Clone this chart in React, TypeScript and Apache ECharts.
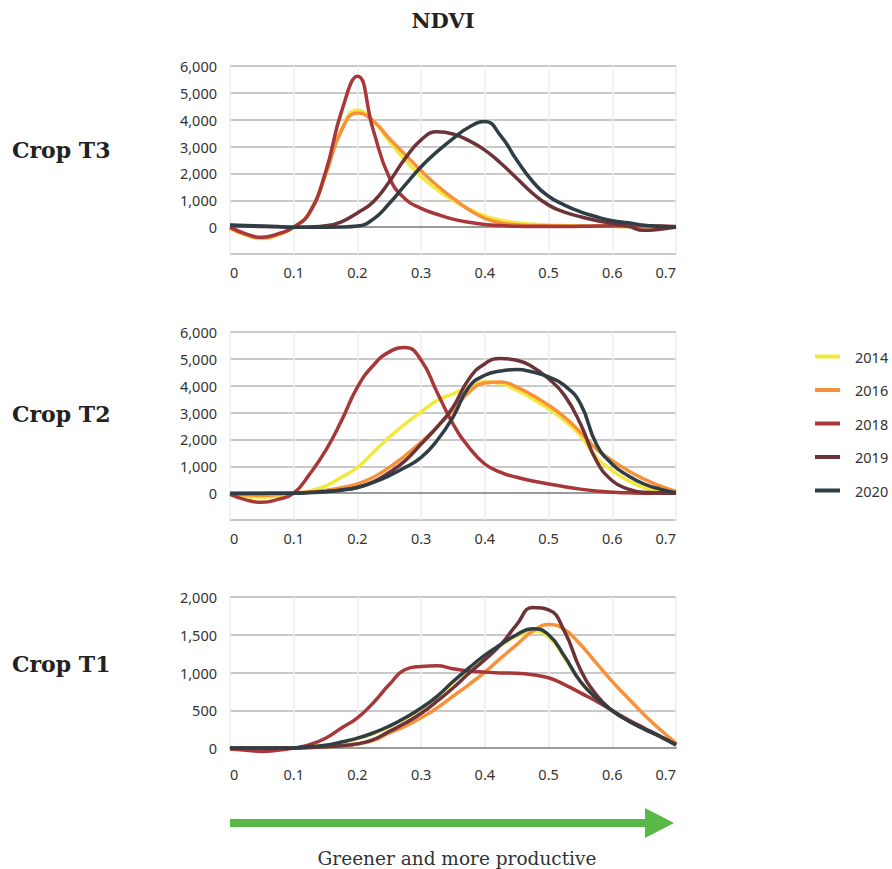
import React, { useEffect, useRef } from "react";
import * as echarts from "echarts";

const YEARS = ["2014", "2016", "2018", "2019", "2020"];
const COLORS = ["#f3e83c", "#f7913a", "#a8373a", "#6e3338", "#2f3d45"];
const CROPS = ["Crop T3", "Crop T2", "Crop T1"];

const NDVI_X = [
  0, 0.025, 0.05, 0.075, 0.1, 0.125, 0.15, 0.175, 0.2, 0.225, 0.25, 0.275, 0.3, 0.325, 0.35,
  0.375, 0.4, 0.425, 0.45, 0.475, 0.5, 0.525, 0.55, 0.575, 0.6, 0.625, 0.65, 0.675, 0.7,
];

// Crop T3
const T3_2014 = [-50, -300, -420, -300, 0, 550, 2000, 3650, 4350, 3950, 3200, 2500, 1880, 1400, 1000, 680, 420, 260, 160, 110, 80, 60, 45, 35, 30, 25, 20, 10, 0];
const T3_2016 = [-30, -280, -400, -280, 0, 530, 1950, 3600, 4250, 3950, 3300, 2700, 2100, 1550, 1080, 650, 330, 160, 90, 60, 50, 40, 35, 30, 30, 25, 20, 10, 0];
const T3_2018 = [0, -250, -380, -250, 0, 550, 2050, 4300, 5620, 3600, 1850, 1050, 700, 480, 300, 180, 100, 60, 30, 20, 20, 20, 30, 40, 50, 50, 50, 40, 20];
const T3_2019 = [60, 40, 20, 10, 0, 10, 50, 200, 530, 950, 1690, 2560, 3250, 3550, 3470, 3220, 2870, 2380, 1820, 1260, 820, 560, 390, 250, 140, 30, -120, -80, 0];
const T3_2020 = [80, 60, 40, 20, 0, 0, 0, 5, 40, 300, 880, 1570, 2250, 2810, 3300, 3720, 3930, 3400, 2500, 1700, 1150, 820, 570, 385, 240, 160, 75, 30, 0];

// Crop T2
const T2_2014 = [-50, -130, -150, -100, 0, 70, 270, 590, 960, 1520, 2080, 2580, 3020, 3450, 3700, 3950, 4150, 4080, 3830, 3510, 3140, 2700, 2140, 1330, 835, 460, 210, 60, 0];
const T2_2016 = [-30, -60, -80, -50, 0, 30, 100, 200, 340, 590, 960, 1400, 1900, 2460, 3080, 3760, 4100, 4140, 3950, 3640, 3270, 2830, 2270, 1650, 1210, 835, 520, 270, 60];
const T2_2018 = [-50, -250, -340, -230, 0, 710, 1580, 2700, 3950, 4760, 5260, 5420, 4950, 3760, 2580, 1710, 1085, 770, 590, 450, 340, 240, 150, 80, 30, 10, 0, 0, 0];
const T2_2019 = [-20, -15, -10, -5, 0, 20, 60, 120, 210, 420, 770, 1210, 1830, 2460, 3200, 4250, 4820, 5010, 4950, 4700, 4260, 3640, 2580, 1210, 460, 150, 30, 10, 0];
const T2_2020 = [0, 0, 0, 0, 0, 20, 50, 110, 210, 400, 650, 960, 1330, 1960, 2830, 3950, 4390, 4550, 4600, 4510, 4330, 4010, 3330, 1830, 1080, 650, 340, 150, 20];

// Crop T1
const T1_2014 = [-10, -10, -5, 0, 0, 20, 35, 75, 125, 190, 280, 390, 520, 680, 870, 1050, 1220, 1360, 1480, 1550, 1470, 1200, 880, 660, 495, 360, 255, 155, 40];
const T1_2016 = [-20, -15, -10, -5, 0, 5, 15, 30, 55, 100, 200, 290, 400, 530, 685, 840, 1005, 1190, 1370, 1545, 1635, 1570, 1370, 1125, 880, 660, 440, 245, 65];
const T1_2018 = [-10, -30, -45, -30, 0, 45, 130, 265, 400, 600, 840, 1040, 1080, 1090, 1050, 1020, 1005, 995, 990, 970, 930, 840, 730, 620, 495, 375, 265, 155, 50];
const T1_2019 = [0, 0, 0, 0, 0, 5, 15, 30, 55, 110, 220, 330, 460, 620, 795, 990, 1170, 1370, 1635, 1860, 1830, 1545, 1040, 705, 495, 360, 250, 150, 40];
const T1_2020 = [0, 0, 0, 0, 0, 20, 35, 80, 130, 200, 290, 400, 530, 685, 880, 1060, 1230, 1370, 1500, 1580, 1500, 1215, 880, 660, 495, 360, 255, 155, 40];

const PANELS = [
  [T3_2014, T3_2016, T3_2018, T3_2019, T3_2020],
  [T2_2014, T2_2016, T2_2018, T2_2019, T2_2020],
  [T1_2014, T1_2016, T1_2018, T1_2019, T1_2020],
];

const Y_MIN = [-1000, -1000, 0];
const Y_MAX = [6000, 6000, 2000];
const Y_STEP = [1000, 1000, 500];
const X_TICKS_MAX = 0.7;

const LABEL_FONT = "'Noto Sans', sans-serif";
const TITLE_FONT = "'DejaVu Serif', serif";

export default function App() {
  const ref = useRef<HTMLDivElement>(null);
  useEffect(() => {
    if (!ref.current) return;
    const chart = echarts.init(ref.current, null, { renderer: "svg" });
    const gridPos = [
      { left: 230, right: 216, top: 66, height: 188 },
      { left: 230, right: 216, top: 332, height: 188 },
      { left: 230, right: 216, top: 597, height: 151 },
    ];
    const xAxes = gridPos.map((_, i) => ({
      type: "value",
      gridIndex: i,
      min: 0,
      max: X_TICKS_MAX,
      interval: 0.1,
      axisLine: i === 2 ? { show: true, lineStyle: { color: "#9a9a9a", width: 2 } } : { show: false },
      axisTick: { show: false },
      axisLabel: {
        margin: i === 2 ? 18 : 10,
        fontSize: 14.5,
        color: "#333",
        fontFamily: LABEL_FONT,
        alignMinLabel: "left",
        alignMaxLabel: "right",
        formatter: (v: number) => (Math.abs(v) < 1e-9 ? "0" : v.toFixed(1)),
      },
      splitLine: { show: true, lineStyle: { color: "#ececec", width: 1.5 } },
    }));
    const yAxes = gridPos.map((_, i) => ({
      type: "value",
      gridIndex: i,
      min: Y_MIN[i],
      max: Y_MAX[i],
      interval: Y_STEP[i],
      axisLine: { show: false },
      axisTick: { show: false },
      axisLabel: {
        margin: 13,
        fontSize: 14.5,
        color: "#333",
        fontFamily: LABEL_FONT,
        formatter: (v: number) => (v < 0 ? "" : v.toLocaleString("en-US")),
      },
      splitLine: { show: true, lineStyle: { color: "#c9c9c9", width: 2 } },
    }));
    const series: any[] = [];
    PANELS.forEach((panel, gi) => {
      panel.forEach((vals, si) => {
        const s: any = {
          type: "line",
          name: YEARS[si],
          xAxisIndex: gi,
          yAxisIndex: gi,
          data: NDVI_X.map((x, k) => [x, vals[k]]),
          smooth: 0.5,
          showSymbol: false,
          symbol: "none",
          clip: false,
          color: COLORS[si],
          lineStyle: { width: 3.5, color: COLORS[si] },
          z: 3 + si,
        };
        if (si === 0 && gi < 2) {
          s.markLine = {
            silent: true,
            symbol: "none",
            label: { show: false },
            lineStyle: { color: "#9a9a9a", width: 2, type: "solid" },
            data: [{ yAxis: 0 }],
            z: 1,
          };
        }
        series.push(s);
      });
    });
    const cropY = [150, 414, 664];
    chart.setOption({
      animation: false,
      backgroundColor: "#ffffff",
      grid: gridPos,
      xAxis: xAxes,
      yAxis: yAxes,
      legend: {
        data: YEARS,
        orient: "vertical",
        left: 810,
        top: 344,
        itemWidth: 25,
        itemHeight: 4,
        icon: "rect",
        itemGap: 18.5,
        textStyle: { fontSize: 14.5, color: "#333", fontFamily: LABEL_FONT, padding: [0, 0, 0, 10] },
      },
      series,
      graphic: [
        {
          type: "text",
          x: 443,
          y: 20,
          style: {
            text: "NDVI",
            font: `bold 21px ${TITLE_FONT}`,
            fill: "#222",
            textAlign: "center",
            textVerticalAlign: "middle",
          },
        },
        ...CROPS.map((c, i) => ({
          type: "text",
          x: 12,
          y: cropY[i],
          style: {
            text: c,
            font: `bold 22px ${TITLE_FONT}`,
            fill: "#222",
            textAlign: "left",
            textVerticalAlign: "middle",
          },
        })),
        {
          type: "rect",
          shape: { x: 230, y: 819, width: 418, height: 8 },
          style: { fill: "#58b947" },
        },
        {
          type: "polygon",
          shape: { points: [[645, 808], [674, 823], [645, 838]] },
          style: { fill: "#58b947" },
        },
        {
          type: "text",
          x: 457,
          y: 858,
          style: {
            text: "Greener and more productive",
            font: `18.5px ${TITLE_FONT}`,
            fill: "#333",
            textAlign: "center",
            textVerticalAlign: "middle",
          },
        },
      ],
    });
    return () => chart.dispose();
  }, []);
  return (
    <div
      ref={ref}
      style={{ position: "fixed", left: 0, top: 0, width: 892, height: 869, background: "#fff" }}
    />
  );
}
